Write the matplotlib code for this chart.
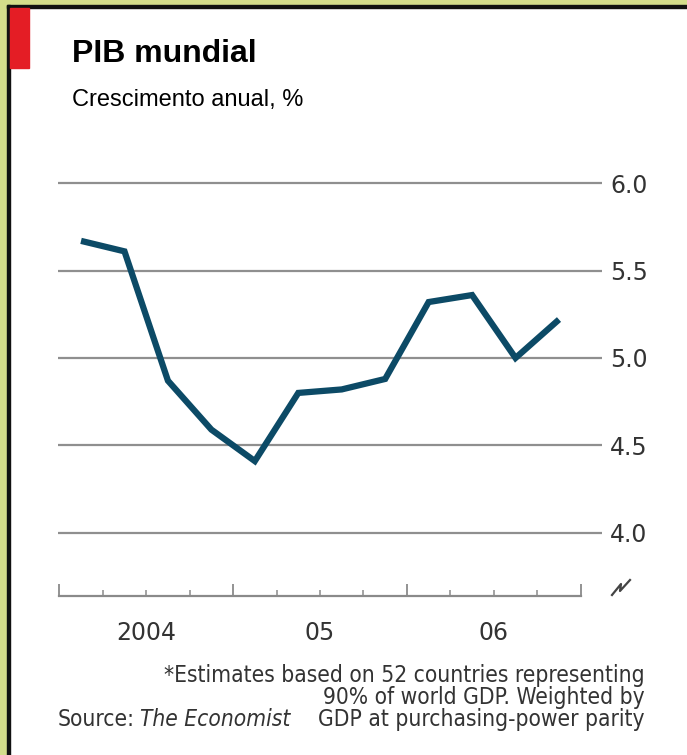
import numpy as np
import matplotlib.pyplot as plt
from matplotlib.patches import Rectangle
from matplotlib.lines import Line2D

# World GDP growth, quarterly 2004Q1 - 2006Q4
quarters = ['2004Q1', '2004Q2', '2004Q3', '2004Q4',
            '2005Q1', '2005Q2', '2005Q3', '2005Q4',
            '2006Q1', '2006Q2', '2006Q3', '2006Q4']
growth = [5.67, 5.61, 4.87, 4.59, 4.41, 4.80, 4.82, 4.88, 5.32, 5.36, 5.00, 5.22]
years = ['2004', '05', '06']
y_ticks = [4.0, 4.5, 5.0, 5.5, 6.0]

W, H = 687, 755
fig = plt.figure(figsize=(W/100, H/100), dpi=100)
fig.patch.set_facecolor('white')

def fx(px):
    return px / W

def fy(py):
    return 1 - py / H

# frame: olive margin, black rule, red tab
olive = '#d4dd8b'
fig.patches.append(Rectangle((0, 0), fx(7), 1, transform=fig.transFigure, color=olive, zorder=0))
fig.patches.append(Rectangle((0, fy(5)), 1, 5/H, transform=fig.transFigure, color=olive, zorder=0))
fig.patches.append(Rectangle((fx(7), 0), 2.5/W, fy(5), transform=fig.transFigure, color='#111111', zorder=1))
fig.patches.append(Rectangle((fx(7), fy(7.5)), 1, 2.5/H, transform=fig.transFigure, color='#111111', zorder=1))
fig.patches.append(Rectangle((fx(10), fy(68)), 19/W, 60.5/H, transform=fig.transFigure, color='#e41d25', zorder=1))

fig.text(fx(72), fy(61.5), 'PIB mundial', fontsize=23, fontweight='bold',
         family='Liberation Sans', va='baseline', color='black')
fig.text(fx(72.5), fy(106), 'Crescimento anual, %', fontsize=17,
         family='Liberation Sans', va='baseline', color='black')

ax = fig.add_axes([fx(58), fy(596), (601.7 - 58)/W, (596 - 150)/H])
x = np.arange(len(growth)) + 0.5
ax.plot(x, growth, color='#0c4a66', lw=4.5, solid_joinstyle='miter',
        solid_capstyle='butt', zorder=3)

ax.set_xlim(-0.03, 12.483)
ax.set_ylim(3.638, 6.19)

ax.set_xticks([0, 4, 8, 12])
ax.set_xticklabels([])
minor = [i for i in range(13) if i % 4]
ax.set_xticks(minor, minor=True)
ax.set_xticklabels(['' if i % 4 != 2 else years[i // 4] for i in minor], minor=True)
tick_col = '#8a8a8a'
ax.tick_params(axis='x', which='major', direction='in', length=8.6, width=1.3, color=tick_col)
ax.tick_params(axis='x', which='minor', direction='in', length=4, width=1.1, color=tick_col,
               pad=18, labelsize=17, labelcolor='#333333')

ax.yaxis.tick_right()
ax.set_yticks(y_ticks)
ax.set_yticklabels([f'{v:.1f}' for v in y_ticks])
ax.tick_params(axis='y', length=0, pad=6, labelsize=17, labelcolor='#333333')
ax.grid(axis='y', color='#8f8f8f', lw=1.6)
ax.set_axisbelow(True)

for s in ['top', 'left', 'right']:
    ax.spines[s].set_visible(False)
ax.spines['bottom'].set_bounds(0, 12)
ax.spines['bottom'].set_color(tick_col)
ax.spines['bottom'].set_linewidth(1.6)

# axis break sign
bx = [612, 621, 620, 630]
by = [595, 584, 591, 580]
fig.add_artist(Line2D([fx(v) for v in bx], [fy(v) for v in by], transform=fig.transFigure,
                      color='#444444', lw=1.6))

foot = dict(fontsize=16.3, family='DejaVu Sans', fontstretch='condensed', color='#333333')
fig.text(fx(645), fy(682), '*Estimates based on 52 countries representing', ha='right', va='baseline', **foot)
fig.text(fx(645), fy(704), '90% of world GDP. Weighted by', ha='right', va='baseline', **foot)
fig.text(fx(645), fy(726), 'GDP at purchasing-power parity', ha='right', va='baseline', **foot)
src = fig.text(fx(58), fy(726), 'Source:', ha='left', va='baseline', **foot)
fig.add_artist(plt.Annotation('The Economist', xy=(1, 0), xycoords=src, xytext=(3.5, 0),
                              textcoords='offset points', ha='left', va='bottom',
                              style='italic', **foot))

fig.savefig('out.png', dpi=100)
